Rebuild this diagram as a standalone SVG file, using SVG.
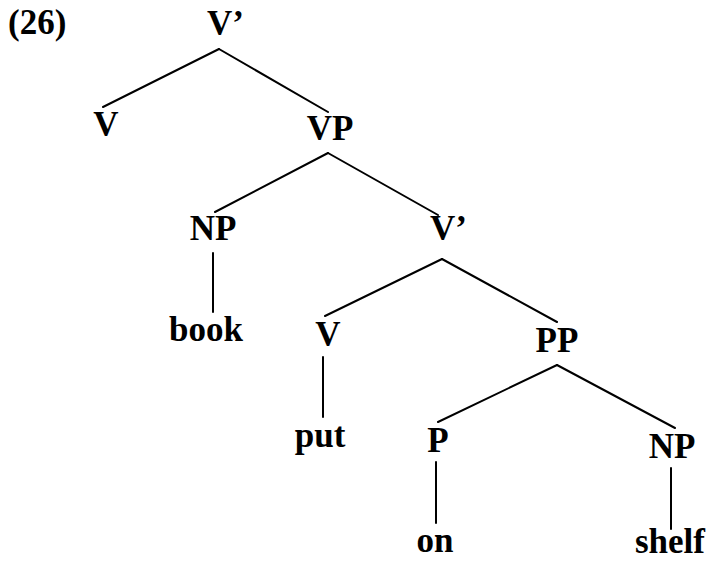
<svg xmlns="http://www.w3.org/2000/svg" width="716" height="564" viewBox="0 0 716 564">
<style>
text{font-family:"Liberation Serif","Times New Roman",serif;font-weight:bold;font-size:35px;fill:#000}
.m{text-anchor:middle}
line{stroke:#000;stroke-width:2;stroke-linecap:round}
</style>
<rect width="716" height="564" fill="#fff"/>
<text id="ex" x="8" y="34" font-size="36">(26)</text>
<g id="connectors">
<line x1="219" y1="49" x2="103" y2="107"/>
<line x1="219" y1="49" x2="328" y2="112"/>
<line x1="328" y1="153" x2="215" y2="212"/>
<line x1="328" y1="153" x2="438" y2="215"/>
<line x1="213" y1="253" x2="213" y2="312"/>
<line x1="442" y1="259" x2="325" y2="316"/>
<line x1="442" y1="259" x2="557" y2="322"/>
<line x1="323" y1="357" x2="323" y2="417"/>
<line x1="557" y1="365" x2="438" y2="422"/>
<line x1="557" y1="365" x2="675" y2="428"/>
<line x1="436" y1="462" x2="436" y2="523"/>
<line x1="671" y1="468" x2="671" y2="529"/>
</g>
<g id="n-vbar1"><text x="207" y="35">V’</text></g>
<g id="n-v1"><text class="m" x="106" y="136">V</text></g>
<g id="n-vp"><text class="m" x="330" y="140">VP</text></g>
<g id="n-np1"><text class="m" x="213" y="240">NP</text></g>
<g id="n-vbar2"><text x="430" y="240">V’</text></g>
<g id="n-book"><text class="m" x="206" y="341">book</text></g>
<g id="n-v2"><text class="m" x="328" y="346">V</text></g>
<g id="n-pp"><text class="m" x="557" y="352">PP</text></g>
<g id="n-put"><text class="m" x="320" y="447">put</text></g>
<g id="n-p"><text class="m" x="438" y="452">P</text></g>
<g id="n-np2"><text class="m" x="672" y="458">NP</text></g>
<g id="n-on"><text class="m" x="435" y="552">on</text></g>
<g id="n-shelf"><text class="m" x="670" y="553">shelf</text></g>
</svg>
